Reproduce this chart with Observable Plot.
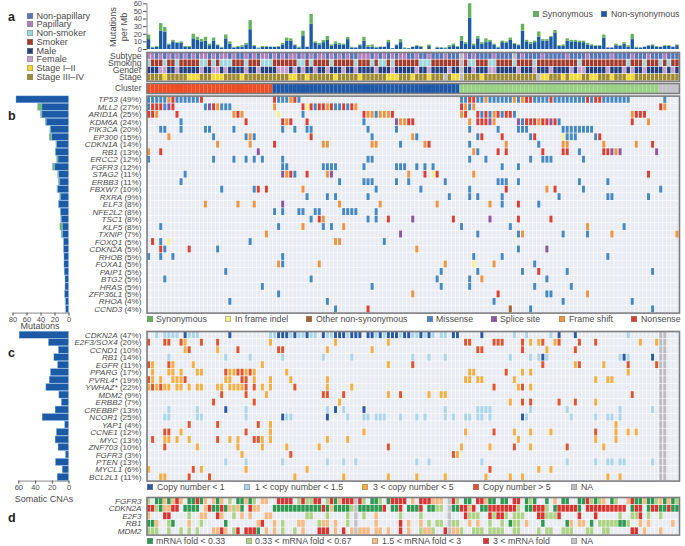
<!DOCTYPE html>
<html><head><meta charset="utf-8">
<script src="https://cdn.jsdelivr.net/npm/d3@7"></script>
<script src="https://cdn.jsdelivr.net/npm/@observablehq/plot@0.6"></script>
<style>
html,body{margin:0;padding:0;background:#fff}
#page{position:relative;width:685px;height:546px;overflow:hidden;font-family:"Liberation Sans",Arial,sans-serif;color:#4a4a4a}
.t{position:absolute;font-size:8.8px;line-height:10px;white-space:nowrap}
.s{position:absolute;width:6px;height:6px;box-sizing:border-box;border:.5px solid #8888}
.p{position:absolute;font-weight:700;font-size:12.5px;line-height:13px;color:#222}
svg text{fill:#4a4a4a}
</style></head><body><div id="page"></div>
<script>
const nCols = 131;
// top bars: per-sample mutations per Mb
const barNonsyn = [13,2,3,24,23,6,10,8,8,3,3,14,12,10,11,5,11,5,2,14,7,2,3,3,6,26,4,1,3,3,3,3,3,6,11,11,5,2,17,3,33,8,6,9,12,4,7,6,6,13,2,2,5,11,3,3,2,3,3,9,1,5,9,1,1,3,4,3,0,4,0,2,2,1,3,5,3,11,7,41,5,14,7,9,10,6,2,9,8,12,7,5,24,10,7,9,16,11,11,16,21,4,4,11,10,10,9,9,6,5,4,4,15,2,2,5,4,7,3,13,2,2,3,4,5,3,3,4,4,3,5];
const barTotal =  [19,3,4,34,29,7,12,9,10,4,4,20,16,13,16,7,15,6,3,19,10,3,4,5,8,38,5,2,4,4,3,3,4,8,15,14,6,3,24,3,46,10,8,12,17,6,10,8,7,16,3,2,6,16,5,6,3,3,3,12,1,6,13,2,1,3,5,4,0,6,0,3,2,2,5,7,4,17,9,60,7,17,9,14,12,7,3,11,10,15,8,6,33,12,9,11,23,13,13,17,25,5,6,14,12,12,11,11,8,6,5,5,19,2,2,7,5,9,5,20,3,2,3,5,6,4,3,5,5,3,6];
// annotation tracks
const papillaryCols = [0,1,3,5,7,9,11,13,14,16,18,19,21,24,26,28,29,31,33,35,36,38,40,42,43,45,47,49,52,53,54,56,58,60,62,63,66,69,73,78,80,85,92,97,103,108,114,119,123,127];
const subtypeNA = [77,90];
const nonSmokerCols = [0,4,7,13,14,16,18,19,20,24,28,29,30,37,38,40,45,51,55,57,58,60,67,68,69,79,80,84,85,90,95,106,118,122,126,128];
const smokingNA = [77];
const femaleCols = [3,4,7,13,16,17,19,24,27,32,33,34,36,38,41,44,48,51,56,60,66,69,74,80,84,85,91,95,99,104,106,107,113,117,119,122,127,129];
const genderNA = [77];
const earlyStageCols = [4,10,11,12,16,17,18,23,35,36,39,46,52,59,60,61,65,69,75,76,82,97,98,102,104,105,106,109,110,114,118,119];
const stageNA = [73,77,96];
const clusterRuns = [["A",0,30],["B",31,76],["C",77,125],["NA",126,130]];
// panel b
const mutGenes = ["TP53","MLL2","ARID1A","KDM6A","PIK3CA","EP300","CDKN1A","RB1","ERCC2","FGFR3","STAG2","ERBB3","FBXW7","RXRA","ELF3","NFE2L2","TSC1","KLF5","TXNIP","FOXQ1","CDKN2A","RHOB","FOXA1","PAIP1","BTG2","HRAS","ZFP36L1","RHOA","CCND3"];
const mutPercent = [49,27,25,24,20,15,14,13,12,12,11,11,10,9,8,8,8,8,7,5,5,5,5,5,5,5,5,4,4];
const mutNonsyn = [75,38,38,32,26,24,17,18.5,15,20,14,13,15.5,11.5,14,11.5,10.5,9,8.5,7,7,6.5,6.5,6,5,5,5.5,4,4];
const mutSyn = [0,6,2,1,.5,3.5,1,.5,2,3,1.5,1.5,1,1,.5,.5,.5,3.3,2,0,0,0,0,0,0,0,0,1,0];
const mutCalls = [
"M0-4 F5 N6 M7-12 N13 N31 M32-34 F35 N36 M37 M77-78 N79-80 M81-82 F83 M84-89 F90 M91 F92 N93-94 M95-98 N99 M100-107 N108 M109 N110-111 M112-118 M127",
"M0 N1-3 M4 S5 N6 M14 S15 N16 F17 M18-20 F31 N38 I39 N40 M41 N42-43 F44 N45 M46-47 N48 M49 N50 F51 N77 F78 M79 F80 N126 F127",
"N0-1 F2 N7 F21 N22 F23 I32 M38 N53 F54-55 M56 F57-58 F59 N60 F77 N78 N81 M82 N83 M84 F85 N86 M87 N88-89 M90 F119 N120-122",
"M8 N24 N33 F34 N35 N39 M53 S61 F62-63 N64-65 F79 N81-83 S84 F85 S91 M92 N93-95 F96 N97-98 S99 N100 M101 N119 F123",
"M3-4 M8 M14-15 M21 M33 M36 M39-40 M54 M61 M79 M86 M91-93 M102-109",
"F5 M16 M24 F25 M26 N40 M55 F65 M66 M81 N82 N87 M94 N95 I102 M103-105 M110 N111",
"F17 F25 N31 F43-44 F55-56 M62 F68 N69 M79 F88 M96 F102-103 F112 F120 N124",
"F0 N3 S27 F80 M81 N86 N88 N97 N102-103 M106 N112-113 S114 F115 S116 S125",
"M0 M16 M21 M24 M26 M28 M33 M54-55 M79 M83 M94 M97-99 M107",
"M33-34 M43-46 M53 M61-63 M66 M68 M70 M87 M91",
"M9 S33 F34 N35 M36 N39 F44 S45 F64 N68 I70 N71 F80 N123",
"M8 M47 M53-55 M61 M64 M73 M86-88 M91 M106 M113",
"M18 M26 N27 N29 F38 M56 M67 M79 N88 F98 N100 M107 M126",
"M39 M44 M46 M54 M74 M79 M81 M87 M101 M113-114 M123",
"F14 F22 F26 S33 F47 F57 F71 F84 M87 N91 M96",
"M31 M33 M37-38 M41-42 M48-51 M56",
"M40 N42 F43 M54 M56 N59 S65 N75 S84 N91 N99",
"M3 M32 F38 M43 M45 F48 M77 M89 F108 M117",
"F29 S62 M81 M91 F92 M102 M108 F114 F130",
"N1 M3 I5 M25 F46-47 M58",
"N3 M4 N10 M17 F66 M91 S98",
"M0 M3 M6 M33 M80 M87 M113",
"F32 M33 F42 F73 I80 F85 M95",
"M19 M72 M81 M92 N96 M103 M124",
"M4 M40 M71 M79 F82 M98",
"M28 M55 M72 M79 M95 M104",
"M32 F65 N86 M98-99 F108",
"M20 M44 M85 M102 M119",
"M46 N54 O89 M94 M124"];
// panel c
const cnaGenes = ["CDKN2A","E2F3/SOX4","CCND1","RB1","EGFR","PPARG","PVRL4*","YWHAZ*","MDM2","ERBB2","CREBBP","NCOR1","YAP1","CCNE1","MYC","ZNF703","FGFR3 ","PTEN","MYCL1","BCL2L1"];
const cnaPercent = [47,20,10,14,11,17,19,22,9,7,13,25,4,12,13,10,3,13,6,11];
const cnaCounts = [59,24,12,17.5,13,21.5,23,27,11.5,8.5,16,31.5,4.5,14.5,16,12.5,3.5,15.5,7.5,13.5];
const cnaCalls = [
"B2 B4-5 B6-7 A9 B10-12 A20 B30-31 A32-34 B35 A36 B37-38 A39 B40-41 A43 B44-45 A46-48 B49 A50-52 A54-55 B56 A57 B58 A59-61 B62 A63-64 B65-66 A67 B68 A69 B70 B72-73 A75-76 A82 B90 B93 B99 A101 A105 B118",
"D0 D4-5 D8 C9 D13 D17 C30 C46 C59 D78-79 D85-87 D92 C94 C96 D97 C100 D101 D106 D110 C121 C125",
"C9 D10 C17 D22 D32-33 C44 C55 D81-82 D92 C98 D105",
"B5 B19 B25 B33 B43 B50 B65 B69 B73 B89 B94 B96 A97 B98 B116 A117 B118 A124",
"D0 C1 D5 C6 C11 C28 C59 D65 D97 C105 D106 C112 D118 D125",
"C1 C5-6 C8 C12-13 D19 C20-21 D22-23 C24 D25 C26 C34 C79-80 D88 C92 C94 C118",
"D0 C1 C3 C6-8 D9 C19-20 D23-24 C26 C30 C35 C44 C78-79 C81-82 C90 C110 C113-114",
"C0 D1 C2 D3 C4-5 C7-8 C10 C12-13 C17-18 C20-23 D24 D26 C28 C30 D36 C44 C50 D85 C91 D92 C94",
"D18 D24 C29 D43-44 D48 C59 D62 C69 C72-73 D119",
"D16 D26 C47 C89 D92 D94 D101 D105 C110",
"B5 B12 A19 B24 B44 A46 B48 A53 B73 B81-84 B94 B103 B116 B124",
"B4-5 B12-13 B24 A33 B34-35 A44 B49 B53-54 B56 B57-58 B62 B66 B68 B73 B75 B78-79 B81-82 B84 A92 B93 B104 B110 B113-114 B116",
"D10 D17 D27 C30 C115",
"D4-5 C8 D24 C30 C53 C78 D85 C90 C94 C99 D110 C115 C118 C120",
"D1 C4-5 C7 C10 D17 C20 C22 D26-27 C28 C30 C44 C49 C91 C110 C115",
"D4 C12 C22 C28 C34 C42 D59 C77 C84 D90 C94 D103 C112",
"C23 D35 D75 C76",
"B19 B24 B33 B44 B48 B51 B66 B69 B82 B103 B110 B113-114 B116-117 B124",
"C0 D11 C13 C24 C39 D84 C96 C99",
"C3-4 D10 D15 C36 C48 C59 C66 C73 C83 C89 C92 C113 C116"];
const cnaNA = [126,127];
// panel d
const mrnaGenes = ["FGFR3","CDKN2A","E2F3","RB1","MDM2"];
const mrnaCalls = [
"l0 g2-3 o4 g5 o6 r7 o8 g10-11 r12 g13 o14 o16 g17 o18 l20 g22-23 o24 g25 l26 o28-29 r32-35 l37 r38 l39-40 r41-42 l44 r45 g46 o47 r48-50 r52 l53 g55-56 l57 g59 r60-63 o65 r67-69 o70-72 r75 l76 g78-79 r81-82 o83 g84-85 g87-88 r90-91 g93 l94 g95 g98 o100 g102-103 g106-107 r108 l109 g110 l111 o112 g114 l115 o118 r119 g120-121 o122 g123-124 l125 o126 g127 o128 g129 l130",
"r0-1 l2 g3 o4-5 r6-7 g9-12 o14 r15 g16-17 r18 g19 o20 l21 o22 g23 r25 o26-27 g31-42 r43 g44 o45 g46-49 l50 g52-53 g54-57 r58 g60-61 r62 g64-66 r67 g69-70 l71-72 g75-76 r77-78 o79 r80 g82-83 r84-90 l91 g93-94 r95-97 l98 g100 r101-105 g106 r108-117 g119 r120-121 g123 r124-125 g126-127 r128 g129-130",
"o0 r4-5 l10 o13-14 r17 o18 l21 o23 o25 o29-30 l39-40 l44 l49 l53 o56 l62 l67 r78 l79-81 r84 l85 r86-87 l88 l90-92 r96-97 l98-100 r101 r106 r110 l116 l119-120 r121 l123 l126",
"g0-1 o2 l5 g6 o10 l13 g19 o27 r28 o31 l33 o37-38 l42 o43 o44 o46 l49 o56 r62 o64 o67 l69 l71-72 l75-76 o79 o81 l84 l87 g89 l90-91 o93 g97 g103 o104 o106-107 g109 l111-115 g116-117 l118 o121 o123 o129",
"l0-2 l5 l8 l10 l12 o16-17 r18 o19 l21 r22 r24-26 g27 o29 o31 l33 l36 o38 r42-44 o46 r48 o50 o52-54 o56-57 o59 r62 o64 l67 o68-69 l70 r73 o75-76 l77 l80-82 l84-87 l90-91 l96 l98-99 l102-104 l108-109 l112-113 r119-120 o122 o126"];
const mrnaNA = [51,74];

const FONT='"Liberation Sans",Arial,sans-serif';
const cols=d3.range(nCols);
const page=document.getElementById("page");
const parse=(calls,genes)=>calls.flatMap((s,i)=>s.split(" ").flatMap(tok=>{
  const [a,b]=tok.slice(1).split("-").map(Number);
  return d3.range(a,(b??a)+1).map(col=>({col,gene:genes[i],type:tok[0]}));
}));
const bg=genes=>genes.flatMap(gene=>cols.map(col=>({col,gene})));
const L=146.5,R=6;
function add(fig){fig.style.position="absolute";fig.style.left=0;fig.style.top=0;page.appendChild(fig);return fig;}
const st=fs=>({background:"transparent",fontFamily:FONT,fontSize:fs+"px",overflow:"visible",maxWidth:"none",height:"546px"});
function base(top,bottom,fs){return {width:685,height:546,marginLeft:L,marginRight:R,marginTop:top,marginBottom:546-bottom,style:st(fs)};}
const X={type:"band",domain:cols,padding:0,round:false,axis:null};
function heat(genes,calls,top,bottom,domain,range,labels,inset,bgfill){
  const cells=parse(calls,genes);
  const fig=Plot.plot({...base(top,bottom,8.1),x:X,
    y:{domain:genes,padding:0,round:false,label:null,tickSize:0,tickPadding:5.5,tickFormat:labels},
    color:{type:"ordinal",domain,range},
    marks:[
      Plot.cell(bg(genes),{x:"col",y:"gene",fill:bgfill,inset:.3}),
      Plot.cell(cells,{x:"col",y:"gene",fill:"type",insetLeft:inset,insetRight:inset,insetTop:.35,insetBottom:.35}),
      Plot.frame({stroke:"#7d7d80",strokeWidth:1.6})]});
  return add(fig);
}
function italicize(fig){
  fig.querySelectorAll('g[aria-label="y-axis tick label"] text').forEach(t=>{
    const m=t.textContent.match(/^(.*) (\(\d+%\))$/);
    if(m){t.textContent="";const a=document.createElementNS("http://www.w3.org/2000/svg","tspan");
      a.setAttribute("font-style","italic");a.textContent=m[1];t.appendChild(a);t.appendChild(document.createTextNode(" "+m[2]));}
    else t.setAttribute("font-style","italic");
  });
}
// top bars
add(Plot.plot({...base(3.3,49,7.5),x:X,
  y:{domain:[0,60],ticks:[0,10,20,30,40,50,60],tickSize:3.5,tickPadding:1.5,label:null},
  color:{type:"ordinal",domain:["n","s"],range:["#1c5aa6","#62b45c"]},
  marks:[
    Plot.barY(cols.flatMap(c=>[{col:c,v:barNonsyn[c],k:"n"},{col:c,v:barTotal[c]-barNonsyn[c],k:"s"}]),{x:"col",y:"v",fill:"k",insetLeft:.35,insetRight:.35}),
    Plot.frame({anchor:"left",stroke:"#555",strokeWidth:.7})]}));
// annotation tracks
const annNames=["Subtype","Smoking","Gender","Stage"];
const annData=[
  cols.map(c=>subtypeNA.includes(c)?"x":papillaryCols.includes(c)?"pa":"np"),
  cols.map(c=>smokingNA.includes(c)?"x":nonSmokerCols.includes(c)?"ns":"sm"),
  cols.map(c=>genderNA.includes(c)?"x":femaleCols.includes(c)?"fe":"ma"),
  cols.map(c=>stageNA.includes(c)?"x":earlyStageCols.includes(c)?"e":"l")];
const annCells=annData.flatMap((r,i)=>r.map((type,col)=>({col,gene:annNames[i],type})));
add(Plot.plot({...base(52,80.8,8.6),x:X,
  y:{domain:annNames,padding:0,round:false,label:null,tickSize:0,tickPadding:5.5},
  color:{type:"ordinal",domain:["np","pa","ns","sm","ma","fe","e","l","x"],range:["#5676b8","#b07fbc","#9fd7df","#a43a2c","#24407f","#c3a0cd","#f8d92f","#9f8a2f","#bdbdc2"]},
  marks:[Plot.cell(annCells,{x:"col",y:"gene",fill:"type",inset:.3}),Plot.frame({stroke:"#7d7d80",strokeWidth:1.6})]}));
// cluster
const clusterCells=clusterRuns.flatMap(([k,a,b])=>d3.range(a,b+1).map(col=>({col,k,gene:"Cluster"})));
add(Plot.plot({...base(83,93,8.4),x:X,
  y:{domain:["Cluster"],padding:0,round:false,label:null,tickSize:0,tickPadding:5.5},
  color:{type:"ordinal",domain:["A","B","C","NA"],range:["#ee4e26","#2058a8","#9ad285","#c3c3c8"]},
  marks:[Plot.cell(clusterCells,{x:"col",y:"gene",fill:"k"}),Plot.frame({stroke:"#7d7d80",strokeWidth:1.6})]}));
// panel b
const mutLabel=g=>`${g} (${mutPercent[mutGenes.indexOf(g)]}%)`;
const MC=["M","N","F","S","I","O"],MR=["#4488c4","#e03d32","#f0943f","#8e55a3","#f6ef8c","#a4622f"];
italicize(heat(mutGenes,mutCalls,95.6,312.6,MC,MR,mutLabel,.55,"#e9ebf2"));
add(Plot.plot({width:685,height:546,marginLeft:12.5,marginRight:685-68.5,marginTop:95.6,marginBottom:546-312.6,
  style:st(7.5),
  x:{domain:[80,0],ticks:[80,60,40,20,0],tickSize:3,tickPadding:1,label:null},
  y:{domain:mutGenes,padding:0,round:false,axis:null},
  color:{type:"ordinal",domain:["n","s"],range:["#1c5aa6","#6dba6a"]},
  marks:[
    Plot.barX(mutGenes.flatMap((gene,i)=>[{gene,v:mutNonsyn[i],k:"n"},{gene,v:mutSyn[i],k:"s"}]),{x:"v",y:"gene",fill:"k",stroke:"#7fb0de",strokeWidth:.4,insetTop:.3,insetBottom:.3}),
    Plot.frame({anchor:"bottom",stroke:"#555",strokeWidth:.7})]}));
// panel c
const cnaLabel=g=>`${g.trim()} (${cnaPercent[cnaGenes.indexOf(g)]}%)`;
const CC=["A","B","C","D","X"],CR=["#2a5aa6","#a9d6ea","#f5ae3f","#e4532c","#bcbcc1"];
const cnaAll=cnaCalls.map(s=>s+" "+cnaNA.map(c=>"X"+c).join(" "));
italicize(heat(cnaGenes,cnaAll,331,480.6,CC,CR,cnaLabel,.55,"#e9ebf2"));
add(Plot.plot({width:685,height:546,marginLeft:18.3,marginRight:685-68.5,marginTop:331,marginBottom:546-480.6,
  style:st(7.5),
  x:{domain:[60,0],ticks:[60,40,20,0],tickSize:3,tickPadding:1,label:null},
  y:{domain:cnaGenes,padding:0,round:false,axis:null},
  marks:[
    Plot.barX(cnaGenes.map((gene,i)=>({gene,v:cnaCounts[i]})),{x:"v",y:"gene",fill:"#1c5aa6",stroke:"#7fb0de",strokeWidth:.4,insetTop:.3,insetBottom:.3}),
    Plot.frame({anchor:"bottom",stroke:"#555",strokeWidth:.7})]}));
// panel d
const RC=["g","l","o","r","X"],RR=["#2e9a50","#aed384","#f6ba82","#db3330","#c3c3c8"];
const mrnaAll=mrnaCalls.map(s=>s+" "+mrnaNA.map(c=>"X"+c).join(" "));
italicize(heat(mrnaGenes,mrnaAll,497,534.6,RC,RR,g=>g,.3,"#e9ebf2"));

// texts and legends
function txt(s,x,y,anchor,fs){const d=document.createElement("div");d.className="t";d.textContent=s;
  if(fs)d.style.fontSize=fs+"px";
  d.style.top=(y-5)+"px";if(anchor==="m"){d.style.left=x+"px";d.style.transform="translateX(-50%)"}else d.style.left=x+"px";page.appendChild(d);return d;}
function sw(c,x,y){const d=document.createElement("div");d.className="s";d.style.background=c;d.style.left=x+"px";d.style.top=(y-3)+"px";page.appendChild(d);}
function panel(s,x,y){const d=document.createElement("div");d.className="p";d.textContent=s;d.style.left=x+"px";d.style.top=(y-6.5)+"px";page.appendChild(d);}
[["a",8,17],["b",8,116],["c",8,353],["d",8,518]].forEach(a=>panel(...a));
const legA=[["Non-papillary","#5676b8"],["Papillary","#b07fbc"],["Non-smoker","#9fd7df"],["Smoker","#a43a2c"],["Male","#24407f"],["Female","#c3a0cd"],["Stage I\u2013II","#f8d92f"],["Stage III\u2013IV","#9f8a2f"]];
const legAy=[15.7,24.3,33.3,42,50.7,59.3,68,76.7];
legA.forEach(([s,c],i)=>{sw(c,26.5,legAy[i]);txt(s,36.5,legAy[i],null,9.1);});
sw("#62b45c",533,14);txt("Synonymous",542,14);sw("#1c5aa6",601,14);txt("Non-synonymous",611,14);
[["Synonymous","#62b45c",147,156],["In frame indel","#f6ef8c",225,235],["Other non-synonymous","#a4622f",306,316],["Missense","#4488c4",427,436],["Splice site","#8e55a3",491,500],["Frame shift","#f0943f",559,569],["Nonsense","#e03d32",631,641]]
 .forEach(([s,c,a,b])=>{sw(c,a,318.7);txt(s,b,318.7);});
[["Copy number < 1","#2a5aa6",147,157],["1 < copy number < 1.5","#a9d6ea",244,255],["3 < copy number < 5","#f5ae3f",362,373],["Copy number > 5","#e4532c",473,483],["NA","#bcbcc1",571,581]]
 .forEach(([s,c,a,b])=>{sw(c,a,487);txt(s,b,487);});
[["mRNA fold < 0.33","#2e9a50",147,156],["0.33 < mRNA fold < 0.67","#aed384",246,255],["1.5 < mRNA fold < 3","#f6ba82",372,382],["3 < mRNA fold","#db3330",483,493],["NA","#c3c3c8",571,581]]
 .forEach(([s,c,a,b])=>{sw(c,a,541);txt(s,b,541);});
txt("Mutations",40,326,"m",9);txt("Somatic CNAs",44,499,"m",9);
["Mutations","per Mb"].forEach((s,i)=>{const d=txt(s,i?124:113,27,"m",9.2);d.style.transform="translateX(-50%) rotate(-90deg)";});
</script></body></html>
